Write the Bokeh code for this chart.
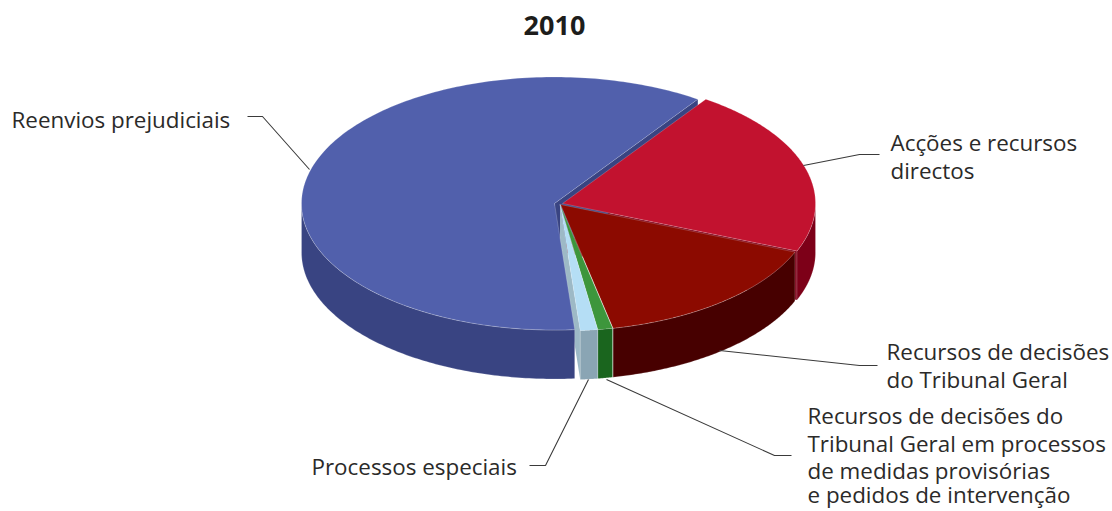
import numpy as np
from bokeh.plotting import figure
from bokeh.models import Range1d
from bokeh.core.properties import value
from bokeh.embed import file_html
from bokeh.resources import INLINE

title_text = "2010"
categories = ["Acções e recursos directos", "Recursos de decisões do Tribunal Geral",
              "Recursos de decisões do Tribunal Geral em processos de medidas provisórias e pedidos de intervenção",
              "Processos especiais", "Reenvios prejudiciais"]
values = [136, 98, 6, 7, 384]
top_colors = ["#c2122f", "#8c0a00", "#3d963c", "#b5def5", "#5160ac"]
wall_colors = ["#7d0018", "#470000", "#1a651e", "#8aa5b4", "#394482"]
apex_x = [563, 561, 560.5, 560.5, 555]
apex_y = [204, 205, 205, 205, 204]

RX, RY, DEPTH = 253, 126.5, 49
START = 55.5
W, H = 1112, 511

label_lines = ["Reenvios prejudiciais", "Acções e recursos", "directos", "Recursos de decisões",
               "do Tribunal Geral", "Recursos de decisões do", "Tribunal Geral em processos",
               "de medidas provisórias", "e pedidos de intervenção", "Processos especiais"]
label_x = [12, 891, 891, 887, 887, 808, 808, 808, 808, 312]
label_y = [120, 143, 171, 352, 380, 416, 444, 471, 495, 467]
leader_x = [[248, 263, 310], [804, 860, 880], [720, 860, 878], [607, 775, 792], [589, 546, 530]]
leader_y = [[117, 117, 170], [166, 155, 155], [351, 366, 366], [380, 456, 456], [380, 466, 466]]

p = figure(width=W, height=H, x_range=Range1d(1, W + 1), y_range=Range1d(H + 1, 1),
           output_backend="svg", toolbar_location=None, min_border=0)
p.axis.visible = False
p.grid.visible = False
p.outline_line_color = None
p.background_fill_color = "white"

fracs = np.array(values, dtype=float) / sum(values) * 360
ends = START - np.cumsum(fracs)
starts = ends + fracs


def rim(i, a0, a1, n=120):
    t = np.radians(np.linspace(a0, a1, n))
    return apex_x[i] + RX * np.cos(t), apex_y[i] - RY * np.sin(t)


def point(i, a):
    t = np.radians(a)
    return apex_x[i] + RX * np.cos(t), apex_y[i] - RY * np.sin(t)


def radial_face(i, a, color):
    rx, ry = point(i, a)
    p.patch([apex_x[i], rx, rx, apex_x[i]], [apex_y[i], ry, ry + DEPTH, apex_y[i] + DEPTH],
            fill_color=color, line_color=None)


def wall(i, a0, a1, color):
    x, y = rim(i, a0, a1)
    p.patch(np.r_[x, x[::-1]], np.r_[y, y[::-1] + DEPTH], fill_color=color,
            line_color="white", line_alpha=0.25, line_width=0.8)


# inner faces showing through the gaps between slices
radial_face(0, ends[0], wall_colors[0])
radial_face(4, ends[4], wall_colors[4])
radial_face(3, ends[3], "#9db9c6")

# outer walls: only the front part of each slice
wall(0, 0, ends[0], wall_colors[0])
wall(1, starts[1], ends[1], wall_colors[1])
wall(2, starts[2], ends[2], wall_colors[2])
wall(3, starts[3], ends[3], wall_colors[3])
wall(4, -180, starts[4], wall_colors[4])

# top faces
for i in [4, 0, 1, 2, 3]:
    x, y = rim(i, starts[i], ends[i], 200)
    p.patch(np.r_[apex_x[i], x], np.r_[apex_y[i], y], fill_color=top_colors[i],
            line_color="white", line_alpha=0.25, line_width=0.8)

p.multi_line(leader_x, leader_y, line_color="#3a3a3a", line_width=1.1)

p.text(label_x, label_y, text=label_lines, text_font=value("Open Sans"), text_font_size="22.4px",
       text_color="#2b2a29", text_align="left", text_baseline="middle")
p.text([555], [26], text=[title_text], text_font=value("Open Sans"), text_font_size="27px",
       text_font_style="bold", text_color="#1d1d1b", text_align="center", text_baseline="middle")

open("out.html", "w").write(file_html(p, INLINE))
